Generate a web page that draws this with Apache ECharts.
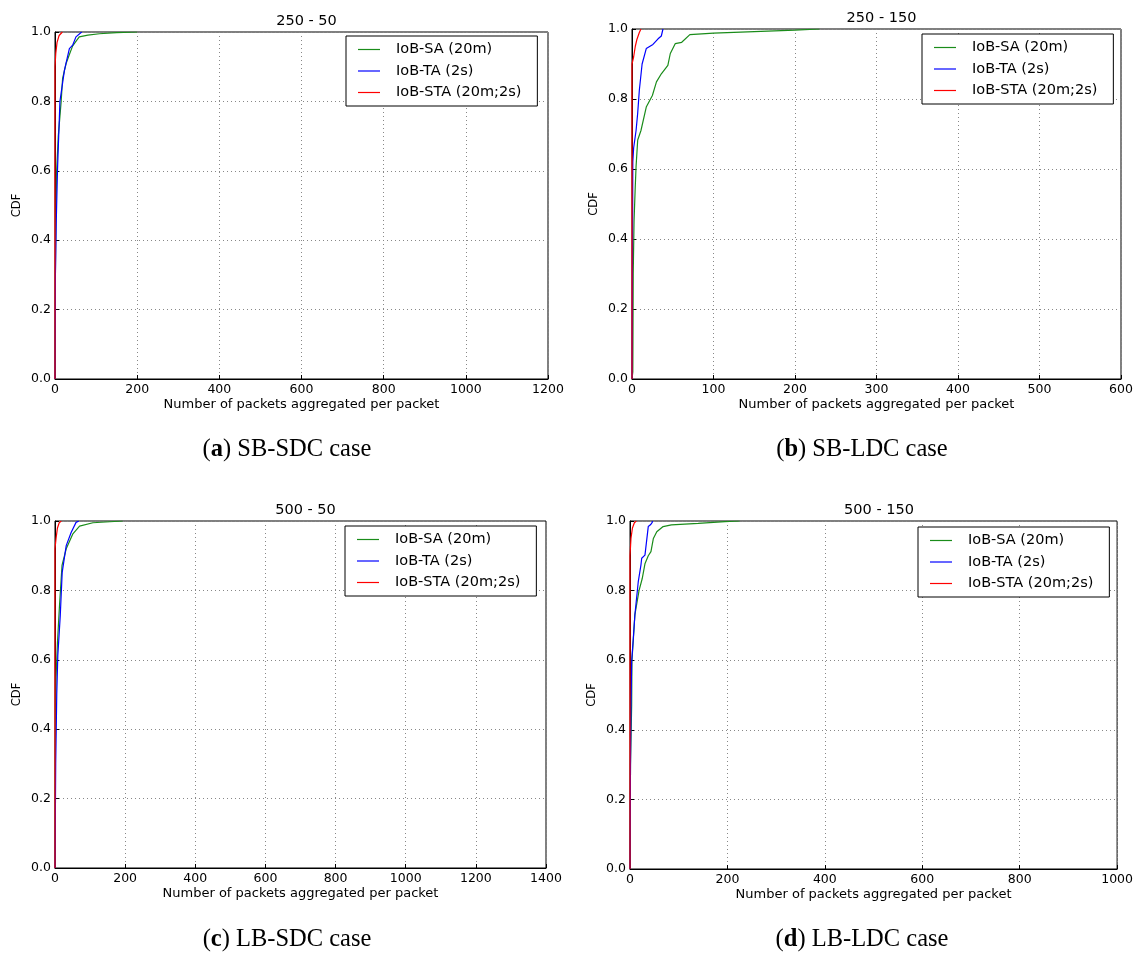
<!DOCTYPE html>
<html>
<head>
<meta charset="utf-8">
<script src="https://cdn.jsdelivr.net/npm/echarts@6/dist/echarts.min.js"></script>
<style>
html,body{margin:0;padding:0;background:#fff;}
#chart{width:1136px;height:954px;}
</style>
</head>
<body>
<div id="chart"></div>
<script>
// Series names
const seriesNames = ['IoB-SA (20m)', 'IoB-TA (2s)', 'IoB-STA (20m;2s)'];
const panelTitles = ['250 - 50', '250 - 150', '500 - 50', '500 - 150'];
const captionLetters = ['a', 'b', 'c', 'd'];
const captionTexts = [' SB-SDC case', ' SB-LDC case', ' LB-SDC case', ' LB-LDC case'];
const xMaxes = [1200, 600, 1400, 1000];
const xSteps = [200, 100, 200, 200];
const yTicks = [0, 0.2, 0.4, 0.6, 0.8, 1.0];

// Panel (a) 250 - 50 : [packets, CDF]
const saA = [[0,0],[1,0.3],[2,0.45],[4,0.6],[8,0.7],[15,0.8],[18.5,0.866],[27,0.909],[35,0.935],[43,0.96],[59,0.986],[80,0.991],[108,0.995],[150,0.998],[200,1.0]];
const taA = [[0,0],[1,0.3],[3,0.45],[6,0.6],[9,0.7],[12,0.8],[23,0.89],[35,0.952],[43,0.962],[51,0.986],[65,1.0]];
const staA = [[0,0],[0,0.9],[2,0.94],[5,0.97],[10,0.99],[18,1.0]];

// Panel (b) 250 - 150
const saB = [[0,0],[1,0.02],[1.5,0.3],[2.5,0.45],[4,0.55],[5,0.607],[7,0.683],[11,0.71],[17.5,0.777],[25,0.81],[30,0.849],[36,0.872],[44,0.896],[47,0.93],[53,0.958],[61,0.962],[71,0.984],[100,0.988],[200,0.997],[230,1.0]];
const taB = [[0,0],[0.5,0.3],[1,0.62],[2,0.66],[5,0.71],[7,0.76],[9,0.825],[12.4,0.9],[17.5,0.944],[25.7,0.956],[32,0.972],[36,0.98],[38,1.0]];
const staB = [[0,0],[0,0.9],[2,0.92],[4,0.95],[6,0.97],[9,0.99],[11,1.0]];

// Panel (c) 500 - 50
const saC = [[0,0],[1,0.35],[3,0.55],[7,0.65],[12.8,0.756],[20,0.872],[32,0.92],[51,0.963],[70,0.985],[108,0.995],[193,1.0]];
const taC = [[0,0],[2,0.3],[5,0.5],[8,0.612],[15,0.727],[20.5,0.852],[32,0.929],[46,0.967],[60,0.996],[68,1.0]];
const staC = [[0,0],[0,0.92],[3,0.95],[7,0.98],[12,0.995],[18,1.0]];

// Panel (d) 500 - 150
const saD = [[0,0],[1,0.3],[3.4,0.47],[4,0.6],[7,0.663],[10,0.73],[18.5,0.8],[25,0.834],[30.7,0.877],[37.5,0.9],[43,0.912],[48,0.95],[55,0.969],[68,0.984],[85,0.989],[140,0.993],[195,0.998],[225,1.0]];
const taD = [[0,0],[1,0.3],[2,0.47],[3.4,0.596],[6.8,0.663],[10,0.73],[17,0.826],[22.5,0.874],[24,0.893],[30.7,0.902],[34,0.905],[37.5,0.984],[42,0.989],[45.7,0.996],[46,1.0]];
const staD = [[0,0],[0,0.9],[2,0.95],[5,0.98],[9,0.995],[13,1.0]];

const panelData = [[saA, taA, staA], [saB, taB, staB], [saC, taC, staC], [saD, taD, staD]];

const colors = ['#1a8c1a', '#0000ff', '#ff0000'];
const FONT = 'DejaVu Sans';

const grids = [
  {left: 55, top: 32, width: 493, height: 347},
  {left: 632, top: 29, width: 489, height: 350},
  {left: 55, top: 521, width: 491, height: 347},
  {left: 630, top: 521, width: 488, height: 348}
];
const legendPos = [
  {left: 346, top: 36},
  {left: 922, top: 34},
  {left: 345, top: 526},
  {left: 918, top: 527}
];
const captionPos = [
  {x: 287, y: 450},
  {x: 862, y: 450},
  {x: 287, y: 940},
  {x: 862, y: 940}
];

const option = {
  backgroundColor: '#fff',
  animation: false,
  grid: grids.map(g => Object.assign({show: true, borderColor: '#000', borderWidth: 1, backgroundColor: 'transparent'}, g)),
  title: [],
  xAxis: [],
  yAxis: [],
  legend: [],
  series: [],
  graphic: []
};

for (let p = 0; p < 4; p++) {
  const g = grids[p];
  option.title.push({
    text: panelTitles[p],
    left: g.left + g.width / 2,
    top: g.top - 23,
    textAlign: 'center',
    textStyle: {fontFamily: FONT, fontSize: 14.5, fontWeight: 'normal', color: '#000'}
  });
  option.xAxis.push({
    type: 'value', gridIndex: p, min: 0, max: xMaxes[p], interval: xSteps[p],
    name: 'Number of packets aggregated per packet', nameLocation: 'middle', nameGap: 19,
    nameTextStyle: {fontFamily: FONT, fontSize: 13, color: '#000'},
    axisLine: {show: true, lineStyle: {color: '#000', width: 1}},
    axisTick: {show: true, inside: true, length: 4, lineStyle: {color: '#000'}},
    axisLabel: {fontFamily: FONT, fontSize: 12.5, color: '#000', margin: 4, formatter: v => String(v)},
    splitLine: {show: true, lineStyle: {color: '#888', type: [1, 3], width: 1}}
  });
  option.yAxis.push({
    type: 'value', gridIndex: p, min: 0, max: 1, interval: 0.2,
    name: 'CDF', nameLocation: 'middle', nameGap: 32,
    nameTextStyle: {fontFamily: FONT, fontSize: 11.5, color: '#000'},
    axisLine: {show: true, lineStyle: {color: '#000', width: 1}},
    axisTick: {show: true, inside: true, length: 4, lineStyle: {color: '#000'}},
    axisLabel: {fontFamily: FONT, fontSize: 12.5, color: '#000', margin: 4, formatter: v => v.toFixed(1)},
    splitLine: {show: true, lineStyle: {color: '#888', type: [1, 3], width: 1}}
  });
  for (let s = 0; s < 3; s++) {
    option.series.push({
      type: 'line', name: seriesNames[s], xAxisIndex: p, yAxisIndex: p,
      data: panelData[p][s], showSymbol: false, symbol: 'none',
      lineStyle: {color: colors[s], width: 1.2}, itemStyle: {color: colors[s]},
      z: 3 + s
    });
  }
  option.legend.push({
    orient: 'vertical', left: legendPos[p].left, top: legendPos[p].top,
    data: seriesNames.map(n => ({name: n, icon: 'rect'})),
    itemWidth: 22, itemHeight: 1.2, itemGap: 6.5,
    padding: [6, 16, 6, 12],
    backgroundColor: '#fff', borderColor: '#000', borderWidth: 1,
    textStyle: {fontFamily: FONT, fontSize: 14.5, color: '#000', padding: [0, 0, 0, 11]},
    selectedMode: false,
    z: 10
  });
  option.graphic.push({
    type: 'text', x: captionPos[p].x, y: captionPos[p].y,
    style: {
      text: '{p|(}{b|' + captionLetters[p] + '}{p|)' + captionTexts[p] + '}',
      align: 'center', verticalAlign: 'middle',
      rich: {
        p: {fontFamily: 'Liberation Serif', fontSize: 24.5, fill: '#000'},
        b: {fontFamily: 'Liberation Serif', fontSize: 24.5, fontWeight: 'bold', fill: '#000'}
      }
    }
  });
}

const chart = echarts.init(document.getElementById('chart'), null, {renderer: 'canvas'});
chart.setOption(option);
</script>
</body>
</html>
